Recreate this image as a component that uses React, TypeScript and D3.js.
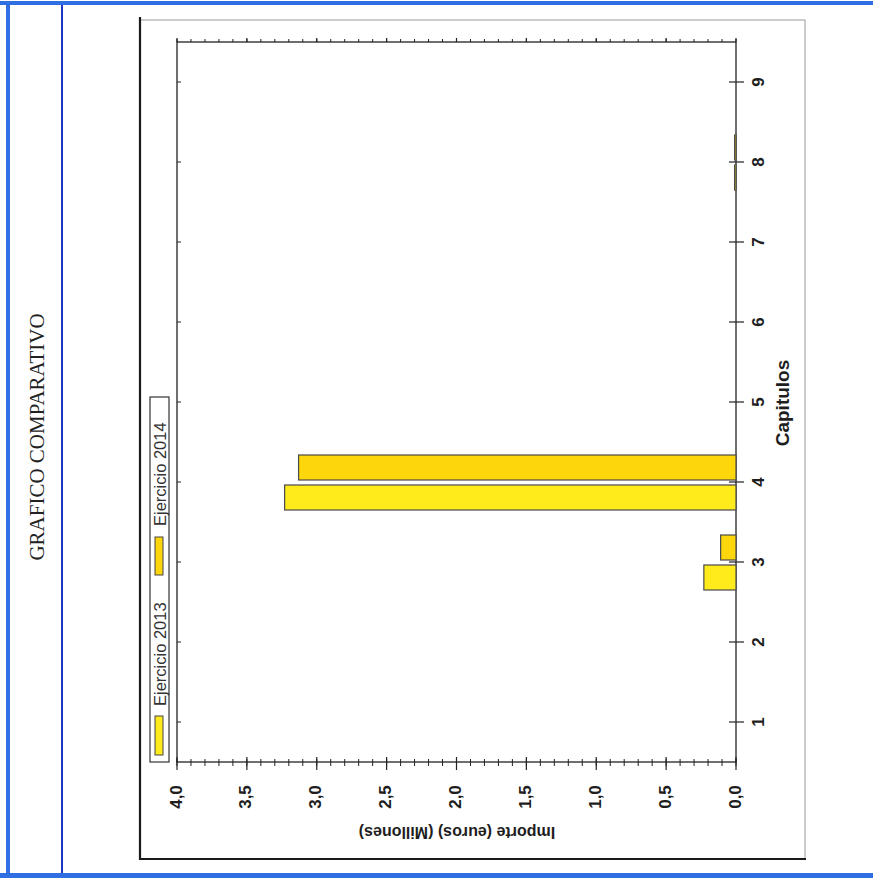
import React from 'react';
import * as d3 from 'd3';

const categories = ['1', '2', '3', '4', '5', '6', '7', '8', '9'];
const seriesNames = ['Ejercicio 2013', 'Ejercicio 2014'];
const values2013 = [0, 0, 0.23, 3.23, 0, 0, 0, 0.01, 0];
const values2014 = [0, 0, 0.11, 3.13, 0, 0, 0, 0.01, 0];
const valueTicks = [0, 0.5, 1, 1.5, 2, 2.5, 3, 3.5, 4];
const valueTickLabels = ['0,0', '0,5', '1,0', '1,5', '2,0', '2,5', '3,0', '3,5', '4,0'];
const titleText = 'GRAFICO COMPARATIVO';
const catAxisTitle = 'Capitulos';
const valueAxisTitle = 'Importe (euros) (Millones)';
const seriesColors = ['#FFEA1C', '#FDD60C'];

export default function App() {
  const W = 873;
  const H = 881;
  const plot = { left: 177, right: 736, top: 42, bottom: 762 };
  const x = d3.scaleLinear().domain([0, 4]).range([plot.right, plot.left]);
  const y = d3.scaleBand<string>().domain(categories).range([plot.bottom, plot.top]);
  const sub = d3.scaleBand<string>().domain(['2014', '2013']).range([13, 68]).paddingInner(1 / 6);
  const minorTicks = x.ticks(40);
  const sans = 'Liberation Sans, Arial, sans-serif';
  const textColor = '#1e1e1e';
  const blue = '#2f6fe3';
  const darkBlue = '#1e36c4';

  const bars: { cat: string; key: string; v: number; color: string }[] = [];
  categories.forEach((c, i) => {
    bars.push({ cat: c, key: '2013', v: values2013[i], color: seriesColors[0] });
    bars.push({ cat: c, key: '2014', v: values2014[i], color: seriesColors[1] });
  });

  const legendItems = [
    { name: seriesNames[0], color: seriesColors[0], sy0: 716, sy1: 755, ty: 706 },
    { name: seriesNames[1], color: seriesColors[1], sy0: 537, sy1: 575, ty: 526 },
  ];

  return (
    <svg width={W} height={H} style={{ position: 'absolute', left: 0, top: 0, background: '#fff' }}>
      {/* page frame */}
      <rect x={0} y={0} width={W} height={H} fill="#fff" />
      <rect x={0} y={1} width={W} height={4} fill={blue} />
      <rect x={0} y={873} width={W} height={5} fill={blue} />
      <rect x={6} y={1} width={4} height={877} fill={blue} />
      <rect x={61} y={5} width={2} height={868} fill={darkBlue} />
      <text
        transform={`translate(37,437) rotate(-90)`}
        textAnchor="middle"
        dominantBaseline="central"
        fontFamily="Liberation Serif, Times New Roman, serif"
        fontSize={21}
        fill="#222"
      >
        {titleText}
      </text>

      {/* chart frame */}
      <rect x={140} y={20} width={665} height={839} fill="none" stroke="#9a9a9a" strokeWidth={1} />
      <line x1={140} y1={17} x2={140} y2={860} stroke="#1a1a1a" strokeWidth={2.2} />
      <line x1={139} y1={859} x2={806} y2={859} stroke="#1a1a1a" strokeWidth={2.2} />

      {/* plot box */}
      <rect
        x={plot.left}
        y={plot.top}
        width={plot.right - plot.left}
        height={plot.bottom - plot.top}
        fill="none"
        stroke="#222"
        strokeWidth={1.3}
      />

      {/* bars */}
      {bars.map((b, i) => {
        const y0 = (y(b.cat) as number) + (sub(b.key) as number);
        const x0 = x(b.v);
        const w = x(0) - x0;
        if (b.v <= 0) return null;
        return (
          <rect
            key={i}
            x={x0}
            y={y0}
            width={w}
            height={sub.bandwidth()}
            fill={b.color}
            stroke="#4a4a4a"
            strokeWidth={1.2}
          />
        );
      })}

      {/* value axis ticks (bottom) */}
      {minorTicks.map((t, i) => (
        <line key={'mb' + i} x1={x(t)} x2={x(t)} y1={plot.bottom - 3} y2={plot.bottom + 4} stroke="#222" strokeWidth={1} />
      ))}
      {valueTicks.map((t, i) => (
        <line key={'Mb' + i} x1={x(t)} x2={x(t)} y1={plot.bottom - 5} y2={plot.bottom + 8} stroke="#222" strokeWidth={1.2} />
      ))}
      {/* mirrored ticks (top) */}
      {minorTicks.map((t, i) => (
        <line key={'mt' + i} x1={x(t)} x2={x(t)} y1={plot.top - 3} y2={plot.top} stroke="#222" strokeWidth={1} />
      ))}
      {valueTicks.map((t, i) => (
        <line key={'Mt' + i} x1={x(t)} x2={x(t)} y1={plot.top - 4} y2={plot.top} stroke="#222" strokeWidth={1.2} />
      ))}
      {valueTicks.map((t, i) => (
        <text
          key={'vl' + i}
          transform={`translate(${x(t) - 1},797) rotate(-90)`}
          textAnchor="middle"
          dominantBaseline="central"
          fontFamily={sans}
          fontWeight="bold"
          fontSize={17}
          fill={textColor}
        >
          {valueTickLabels[i]}
        </text>
      ))}
      <text
        transform={`translate(457,832) rotate(180)`}
        textAnchor="middle"
        dominantBaseline="central"
        fontFamily={sans}
        fontWeight="bold"
        fontSize={16}
        fill={textColor}
      >
        {valueAxisTitle}
      </text>

      {/* category axis ticks (right) */}
      {categories.map((c, i) => {
        const cy = (y(c) as number) + y.bandwidth() / 2;
        return (
          <g key={'c' + i}>
            <line x1={plot.right - 7} x2={plot.right + 8} y1={cy} y2={cy} stroke="#222" strokeWidth={1.2} />
            <line x1={plot.left} x2={plot.left + 4} y1={cy} y2={cy} stroke="#222" strokeWidth={1} />
            <text
              transform={`translate(758,${cy}) rotate(-90)`}
              textAnchor="middle"
              dominantBaseline="central"
              fontFamily={sans}
              fontWeight="bold"
              fontSize={17}
              fill={textColor}
            >
              {c}
            </text>
          </g>
        );
      })}
      <text
        transform={`translate(782,403) rotate(-90)`}
        textAnchor="middle"
        dominantBaseline="central"
        fontFamily={sans}
        fontWeight="bold"
        fontSize={19}
        fill={textColor}
      >
        {catAxisTitle}
      </text>

      {/* legend */}
      <rect x={150} y={397} width={19} height={365} fill="#fff" stroke="#333" strokeWidth={1.2} />
      {legendItems.map((l, i) => (
        <g key={'lg' + i}>
          <rect x={155} y={l.sy0} width={8} height={l.sy1 - l.sy0} fill={l.color} stroke="#444" strokeWidth={1} />
          <text
            transform={`translate(166,${l.ty}) rotate(-90)`}
            textAnchor="start"
            fontFamily={sans}
            fontSize={16.5}
            fill="#333"
          >
            {l.name}
          </text>
        </g>
      ))}
    </svg>
  );
}
